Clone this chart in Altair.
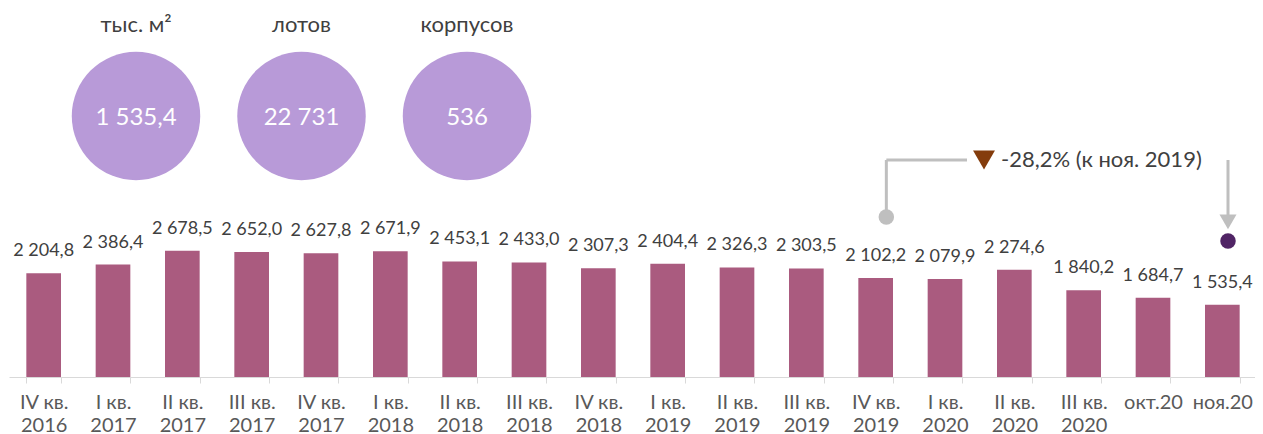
import altair as alt
import pandas as pd

# ---- data ----
categories = ["IV кв.\n2016", "I кв.\n2017", "II кв.\n2017", "III кв.\n2017", "IV кв.\n2017",
              "I кв.\n2018", "II кв.\n2018", "III кв.\n2018", "IV кв.\n2018",
              "I кв.\n2019", "II кв.\n2019", "III кв.\n2019", "IV кв.\n2019",
              "I кв.\n2020", "II кв.\n2020", "III кв.\n2020", "окт.20", "ноя.20"]
values = [2204.8, 2386.4, 2678.5, 2652.0, 2627.8, 2671.9, 2453.1, 2433.0, 2307.3,
          2404.4, 2326.3, 2303.5, 2102.2, 2079.9, 2274.6, 1840.2, 1684.7, 1535.4]

kpi_titles = ["тыс. м²", "лотов", "корпусов"]
kpi_values = ["1 535,4", "22 731", "536"]

change_text = "-28,2% (к ноя. 2019)"
compare_from = "IV кв.\n2019"
compare_to = "ноя.20"

# ---- layout constants ----
W, H = 1247, 369
YMAX = 7834
FONT = "Lato"
BAR = "#AA5B7F"
TXT = "#404040"
GRAY = "#BFBFBF"
R0, R1 = 1, 1249


def fmt(v):
    return f"{v:,.1f}".replace(",", " ").replace(".", ",")


df = pd.DataFrame({"cat": categories, "val": values, "lab": [fmt(v) for v in values]})

xscale = alt.Scale(paddingInner=0.5, paddingOuter=0.25, range=[R0, R1])
xenc = alt.X("cat:N", sort=categories, scale=xscale,
             axis=alt.Axis(title=None, labelAngle=0, labelExpr="split(datum.label, '\\n')",
                           tickBand="extent", tickSize=6, tickColor="#D9D9D9",
                           domainColor="#D9D9D9", labelColor="#595959", labelFont=FONT,
                           labelFontSize=20, labelPadding=9, labelLineHeight=23,
                           labelBaseline="top", grid=False))
yscale = alt.Scale(domain=[0, YMAX], nice=False, zero=True)


def Y(field):
    return alt.Y(field, scale=yscale, axis=None)


bars = alt.Chart(df).mark_bar(color=BAR).encode(x=xenc, y=Y("val:Q"))
labels = alt.Chart(df).mark_text(dy=-22, font=FONT, fontSize=18, color=TXT,
                                 baseline="middle").encode(x=xenc, y=Y("val:Q"), text="lab:N")

# annotation (positions in data units of the y scale; pixel offset from the bar's left edge)
ann = pd.DataFrame({"cat": [compare_from, compare_to],
                    "dot": [3397, 2887],
                    "top": [4607, 4607],
                    "bot": [3397, 3420],
                    "head": [3291, 3291],
                    "col": ["#BFBFBF", "#502465"],
                    "off": [28, 23]})
off = alt.XOffset("off:Q", scale=None)

vlines = alt.Chart(ann).mark_rule(color=GRAY, strokeWidth=3).encode(
    x=xenc, xOffset=off, y=Y("top:Q"), y2="bot:Q")
hline = alt.Chart(ann).transform_filter(alt.datum.cat == compare_from).mark_rule(
    color=GRAY, strokeWidth=3).encode(x=xenc, xOffset=off, x2=alt.value(959), y=Y("top:Q"))
dots = alt.Chart(ann).mark_circle(size=240, opacity=1).encode(
    x=xenc, xOffset=off, y=Y("dot:Q"), color=alt.Color("col:N", scale=None))
head = alt.Chart(ann).transform_filter(alt.datum.cat == compare_to).mark_point(
    shape="triangle-down", filled=True, size=290, color=GRAY, opacity=1).encode(
    x=xenc, xOffset=off, y=Y("head:Q"))
tri = alt.Chart(ann).transform_filter(alt.datum.cat == compare_from).mark_point(
    shape="triangle-down", filled=True, size=480, color="#843C0C", opacity=1).encode(
    x=alt.value(976), y=alt.value(152))
ctext = alt.Chart(ann).transform_filter(alt.datum.cat == compare_from).mark_text(
    align="left", baseline="middle", font=FONT, fontSize=22, color=TXT, text=change_text).encode(
    x=alt.value(993), y=alt.value(152))

# KPI bubbles
kdf = pd.DataFrame({"i": list(range(3)), "title": kpi_titles, "v": kpi_values})
kpi_layers = []
for i in range(3):
    cx = 128 + i * 165.5
    base = alt.Chart(kdf).transform_filter(alt.datum.i == i)
    kpi_layers.append(base.mark_circle(size=16500, color="#B89AD8", opacity=1).encode(
        x=alt.value(cx), y=alt.value(108)))
    kpi_layers.append(base.mark_text(font=FONT, fontSize=24, color="white", baseline="middle").encode(
        x=alt.value(cx), y=alt.value(110), text="v:N"))
    kpi_layers.append(base.mark_text(font=FONT, fontSize=22, color=TXT, baseline="middle").encode(
        x=alt.value(cx), y=alt.value(17), text="title:N"))

chart = alt.layer(bars, labels, vlines, hline, head, dots, tri, ctext, *kpi_layers).properties(
    width=W, height=H,
    autosize=alt.AutoSizeParams(type="none"),
    padding={"left": 0, "top": 0, "right": 0, "bottom": 57},
).configure(font=FONT).configure_view(stroke=None)

chart.save("out.html", embed_options={"renderer": "svg", "actions": False})
